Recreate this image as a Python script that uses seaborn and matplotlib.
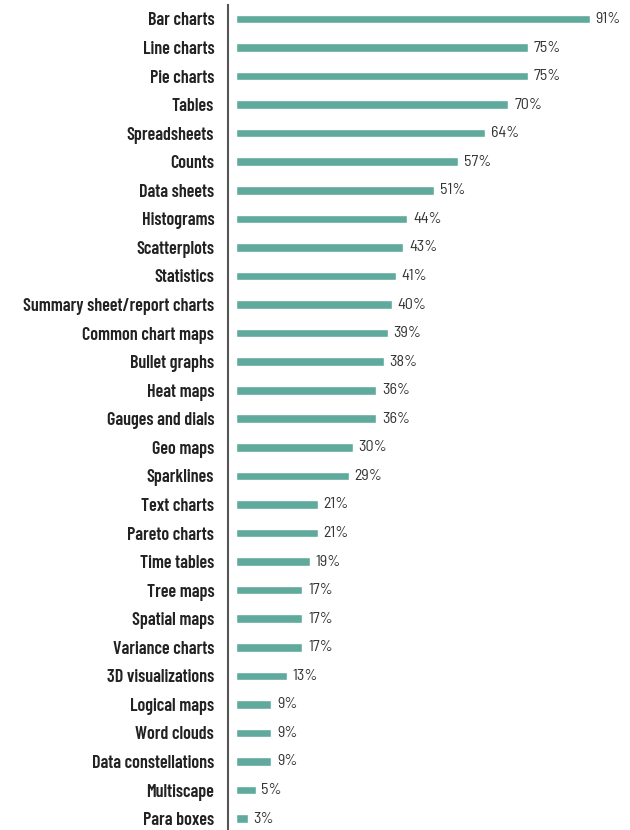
import seaborn as sns
import pandas as pd
import matplotlib.pyplot as plt

categories = [
    "Bar charts", "Line charts", "Pie charts", "Tables", "Spreadsheets", "Counts",
    "Data sheets", "Histograms", "Scatterplots", "Statistics",
    "Summary sheet/report charts", "Common chart maps", "Bullet graphs",
    "Heat maps", "Gauges and dials", "Geo maps", "Sparklines", "Text charts",
    "Pareto charts", "Time tables", "Tree maps", "Spatial maps",
    "Variance charts", "3D visualizations", "Logical maps", "Word clouds",
    "Data constellations", "Multiscape", "Para boxes",
]
values = [91, 75, 75, 70, 64, 57, 51, 44, 43, 41, 40, 39, 38, 36, 36, 30, 29,
          21, 21, 19, 17, 17, 17, 13, 9, 9, 9, 5, 3]

df = pd.DataFrame({"category": categories, "value": values})

sns.set_style("white")
fig = plt.figure(figsize=(6.3, 8.3), dpi=100)
ax = fig.add_axes([0.362, 0.0, 0.638, 1 - 4.7 / 830])

sns.barplot(data=df, x="value", y="category", color="#5faa9c", width=0.3,
            saturation=1, ax=ax)

ax.set_xlim(-2.06, 101.3)
ax.set_ylim(28.4, -0.5)
ax.set_xlabel("")
ax.set_ylabel("")
ax.set_xticks([])
for s in ["top", "right", "bottom"]:
    ax.spines[s].set_visible(False)
ax.spines["left"].set_color("#555555")
ax.spines["left"].set_linewidth(1.5)

ax.tick_params(axis="y", length=0, pad=10)
ax.set_yticks(range(len(categories)))
ax.set_yticklabels(categories, family="Barlow Condensed", fontweight=600,
                   fontsize=13, color="#222222")

for i, v in enumerate(values):
    ax.text(v + 1.5, i, f"{v}%", va="center", ha="left", fontsize=11.5,
            color="#333333", family="Barlow Semi Condensed")

fig.savefig("out.png", dpi=100)
